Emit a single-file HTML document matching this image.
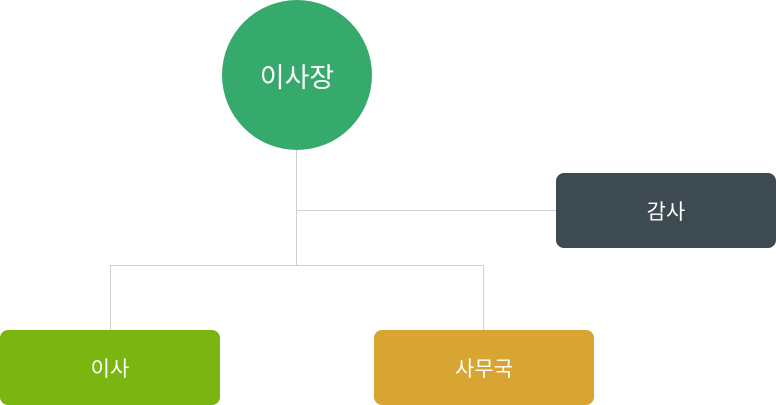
<!DOCTYPE html>
<html><head><meta charset="utf-8"><style>
html,body{margin:0;padding:0;width:776px;height:405px;background:#fff;overflow:hidden;position:relative;font-family:"Liberation Sans","Noto Sans CJK KR",sans-serif;color:#fff}
.l{position:absolute;background:#d0d0d0}
.b{position:absolute;display:flex;align-items:center;justify-content:center;border-radius:8px;font-size:21px}
</style></head><body>
<div class="l" style="left:296px;top:150px;width:1px;height:115px"></div>
<div class="l" style="left:296px;top:210px;width:260px;height:1px"></div>
<div class="l" style="left:110px;top:265px;width:374px;height:1px"></div>
<div class="l" style="left:110px;top:265px;width:1px;height:65px"></div>
<div class="l" style="left:483px;top:265px;width:1px;height:65px"></div>
<div class="b" style="left:222px;top:0;width:150px;height:150px;border-radius:50%;background:#36a96c;font-size:27px">이사장</div>
<div class="b" style="left:556px;top:173px;width:220px;height:75px;background:#3e4a51">감사</div>
<div class="b" style="left:0;top:330px;width:220px;height:75px;background:#7ab512">이사</div>
<div class="b" style="left:374px;top:330px;width:220px;height:75px;background:#d8a532">사무국</div>
</body></html>
